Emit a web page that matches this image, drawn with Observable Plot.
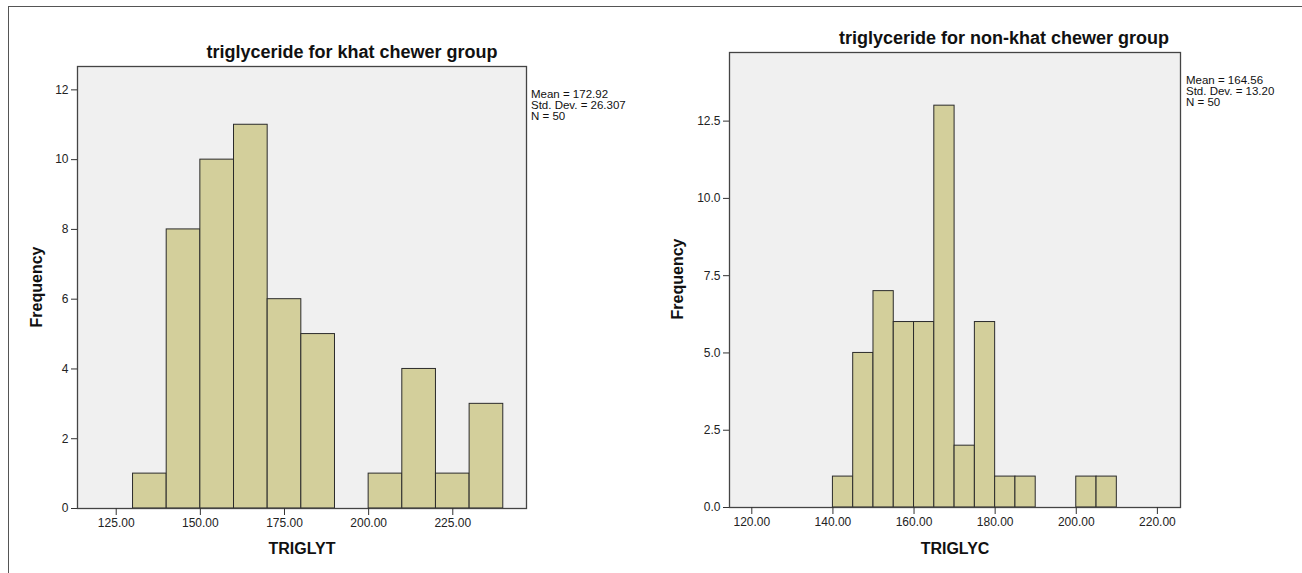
<!DOCTYPE html>
<html><head><meta charset="utf-8">
<script src="https://cdn.jsdelivr.net/npm/d3@7"></script>
<script src="https://cdn.jsdelivr.net/npm/@observablehq/plot@0.6"></script>
<style>
body{margin:0;background:#fff;font-family:"Liberation Sans",Arial,sans-serif;}
#wrap{position:relative;width:1302px;height:573px;overflow:hidden;background:#fff;}
.p{position:absolute;top:0;}
.t{position:absolute;white-space:nowrap;color:#111;transform:translate(-50%,-50%);}
.title{font-size:18px;font-weight:bold;}
.lab{font-size:16px;font-weight:bold;}
.stats{position:absolute;white-space:nowrap;color:#111;font-size:11.5px;line-height:10.8px;}
#border{position:absolute;left:8px;top:6px;right:-2px;bottom:-2px;border-left:1.5px solid #555;border-top:1.5px solid #555;}
</style></head><body><div id="wrap"><div id="border"></div></div>
<script>
// ---- data ----
const khatBinStart = [130, 140, 150, 160, 170, 180, 190, 200, 210, 220, 230];
const khatCounts   = [1, 8, 10, 11, 6, 5, 0, 1, 4, 1, 3];
const khatBinWidth = 10;
const nonBinStart  = [140, 145, 150, 155, 160, 165, 170, 175, 180, 185, 190, 195, 200, 205];
const nonCounts    = [1, 5, 7, 6, 6, 13, 2, 6, 1, 1, 0, 0, 1, 1];
const nonBinWidth  = 5;
const khatXTicks = [125, 150, 175, 200, 225];
const khatYTicks = [0, 2, 4, 6, 8, 10, 12];
const nonXTicks  = [120, 140, 160, 180, 200, 220];
const nonYTicks  = [0, 2.5, 5, 7.5, 10, 12.5];
const khatStats = ["Mean = 172.92", "Std. Dev. = 26.307", "N = 50"];
const nonStats  = ["Mean = 164.56", "Std. Dev. = 13.20", "N = 50"];
const titles  = ["triglyceride for khat chewer group", "triglyceride for non-khat chewer group"];
const xLabels = ["TRIGLYT", "TRIGLYC"];
const yLabel  = "Frequency";

const wrap = document.getElementById("wrap");
const font = '"Liberation Sans", Arial, sans-serif';

function bins(starts, counts, w) {
  return starts.map((s, i) => ({x1: s, x2: s + w, y: counts[i]})).filter(d => d.y > 0);
}

function hist(opts) {
  const data = bins(opts.starts, opts.counts, opts.w);
  return Plot.plot({
    width: 651, height: 573,
    marginLeft: opts.ml, marginRight: opts.mr, marginTop: opts.mt, marginBottom: opts.mb,
    style: {fontFamily: font, fontSize: "12px", color: "#222", background: "transparent", overflow: "visible"},
    x: {domain: opts.xd},
    y: {domain: opts.yd},
    marks: [
      Plot.frame({fill: "#f0f0f0"}),
      Plot.rect(data, {x1: "x1", x2: "x2", y1: 0, y2: "y", fill: "#d3cf9b", stroke: "#2b2b2b", strokeWidth: 1}),
      Plot.frame({stroke: "#444", strokeWidth: 1.3}),
      Plot.axisX({ticks: opts.xt, tickFormat: d => d.toFixed(2), tickSize: 7, tickPadding: 3, label: null, stroke: "#333"}),
      Plot.axisY({ticks: opts.yt, tickFormat: opts.yf, tickSize: 6, tickPadding: 3, label: null, stroke: "#333"})
    ]
  });
}

const left = hist({starts: khatBinStart, counts: khatCounts, w: khatBinWidth,
  ml: 77, mr: 125, mt: 66, mb: 65, xd: [113.5, 246.9], yd: [0, 12.67],
  xt: khatXTicks, yt: khatYTicks, yf: d => String(d)});
left.classList.add("p"); left.style.left = "0px";
wrap.appendChild(left);

const right = hist({starts: nonBinStart, counts: nonCounts, w: nonBinWidth,
  ml: 78, mr: 122, mt: 52, mb: 66, xd: [114.5, 225.7], yd: [0, 14.72],
  xt: nonXTicks, yt: nonYTicks, yf: d => d.toFixed(1)});
right.classList.add("p"); right.style.left = "651px";
wrap.appendChild(right);

function addText(txt, cls, x, y, rot) {
  const d = document.createElement("div");
  d.className = "t " + cls;
  d.textContent = txt;
  d.style.left = x + "px"; d.style.top = y + "px";
  if (rot) d.style.transform = "translate(-50%,-50%) rotate(-90deg)";
  wrap.appendChild(d);
}
function addStats(lines, x, y) {
  const d = document.createElement("div");
  d.className = "stats";
  d.style.left = x + "px"; d.style.top = y + "px";
  d.innerHTML = lines.map(l => `<div>${l}</div>`).join("");
  wrap.appendChild(d);
}

addText(titles[0], "title", 352, 52);
addText(titles[1], "title", 1004, 38);
addText(xLabels[0], "lab", 302, 549);
addText(xLabels[1], "lab", 955, 549);
addText(yLabel, "lab", 37, 287, true);
addText(yLabel, "lab", 678, 279, true);
addStats(khatStats, 531, 89);
addStats(nonStats, 1186, 75);
</script>
</body></html>
